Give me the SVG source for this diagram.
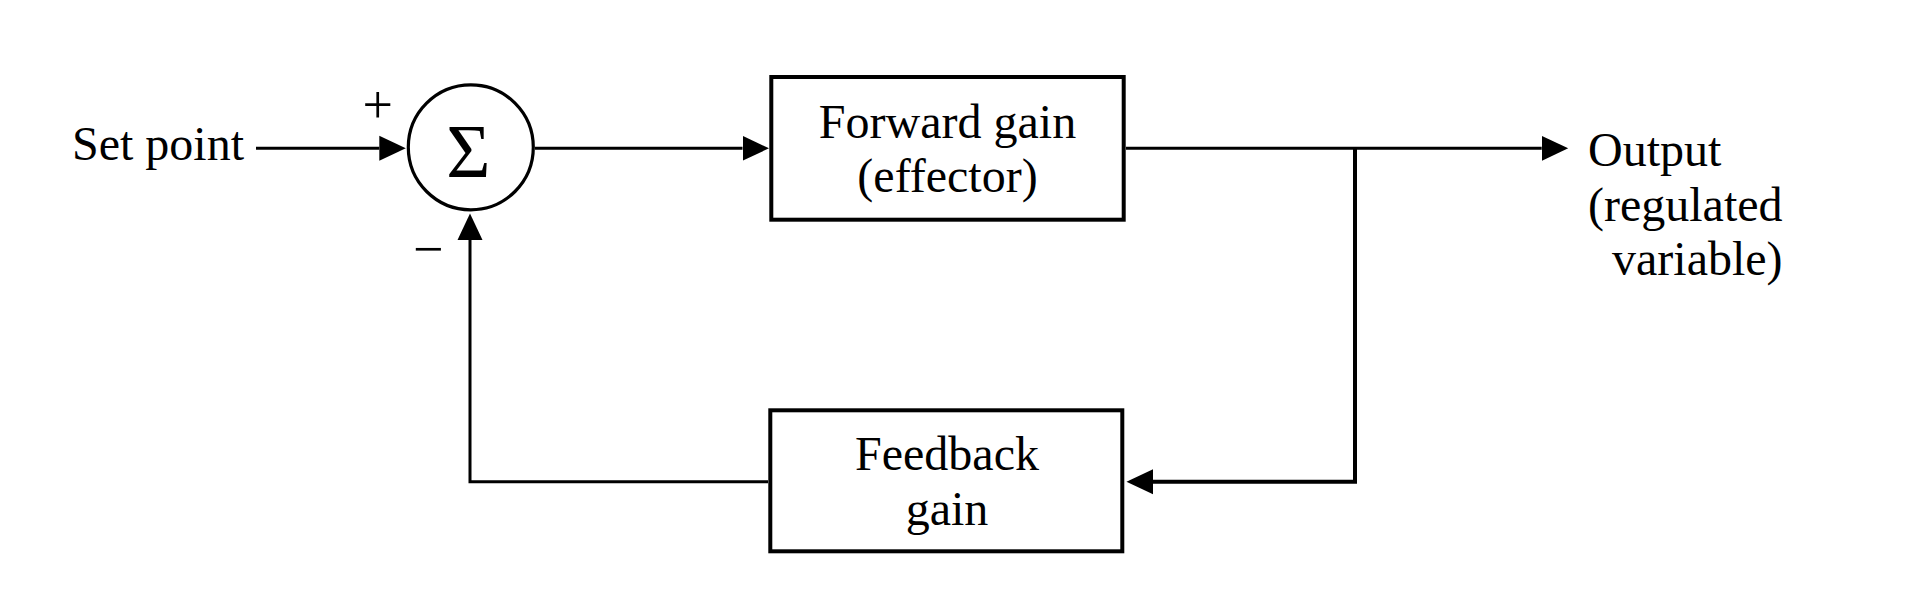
<svg xmlns="http://www.w3.org/2000/svg" width="1920" height="596" viewBox="0 0 1920 596">
  <style>
    text { font-family: "Liberation Serif", "Times New Roman", serif; fill: #000; }
    .lbl { font-size: 48px; }
    .mid { text-anchor: middle; }
    .box { fill: #fff; stroke: #000; stroke-width: 4; }
    .conn { fill: none; stroke: #000; stroke-width: 3; }
    .sign { font-size: 54px; text-anchor: middle; }
  </style>
  <defs>
    <marker id="arrow" markerUnits="userSpaceOnUse" markerWidth="28" markerHeight="26" viewBox="0 0 28 26" refX="0" refY="13" orient="auto">
      <path d="M0,0.5 L26.5,13 L0,25.5 Z" fill="#000"/>
    </marker>
  </defs>
  <rect width="1920" height="596" fill="#fff"/>

  <g id="connectors">
    <path class="conn" d="M256,148.3 H379.3" marker-end="url(#arrow)"/>
    <path class="conn" d="M535,148.3 H742.5" marker-end="url(#arrow)"/>
    <path class="conn" d="M1126,148.3 H1541.7" marker-end="url(#arrow)"/>
    <path class="conn" d="M1355,148.3 V481.7 H1153" marker-end="url(#arrow)" style="stroke-width:4"/>
    <path class="conn" d="M768,481.7 H470 V240" marker-end="url(#arrow)"/>
  </g>

  <g id="setpoint">
    <text class="lbl" x="72" y="159.5">Set point</text>
  </g>

  <g id="summer">
    <circle cx="470.8" cy="147.3" r="62.5" fill="#fff" stroke="#000" stroke-width="3.2"/>
    <text x="468.3" y="176.7" style="font-size:76px" text-anchor="middle">Σ</text>
    <text class="sign" x="377.8" y="122.5">+</text>
    <text class="sign" x="428.3" y="267">−</text>
  </g>

  <g id="forward">
    <rect class="box" x="771.3" y="77" width="352.4" height="142.7"/>
    <text class="lbl mid" x="947.5" y="137.5">Forward gain</text>
    <text class="lbl mid" x="947.5" y="192">(effector)</text>
  </g>

  <g id="feedback">
    <rect class="box" x="770.3" y="410.3" width="352" height="141"/>
    <text class="lbl mid" x="947" y="470">Feedback</text>
    <text class="lbl mid" x="947" y="525">gain</text>
  </g>

  <g id="output">
    <text class="lbl" x="1588" y="166">Output</text>
    <text class="lbl" x="1588" y="220.5">(regulated</text>
    <text class="lbl" x="1612" y="275">variable)</text>
  </g>
</svg>
